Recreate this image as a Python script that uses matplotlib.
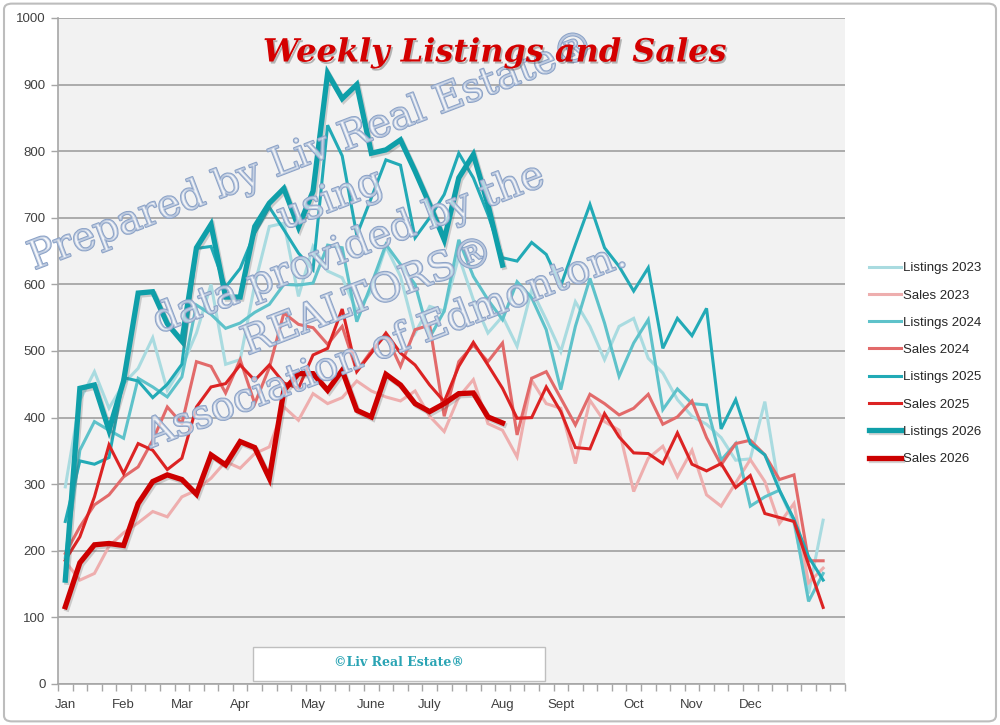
import numpy as np
import matplotlib
matplotlib.use("Agg")
import matplotlib.pyplot as plt
import matplotlib.patheffects as pe
from matplotlib.patches import Rectangle, FancyBboxPatch

# weekly counts, week 0 = first week of January
listings_2023 = [296, 426, 469, 414, 451, 474, 520, 441, 476, 527, 600, 480, 487, 600, 687,
                 692, 582, 657, 620, 610, 560, 590, 657, 612, 527, 567, 560, 642, 577, 527,
                 552, 507, 592, 547, 499, 574, 537, 487, 537, 549, 489, 467, 427, 402, 390,
                 370, 336, 338, 424, 291, 241, 136, 246]
sales_2023 = [184, 156, 166, 207, 227, 242, 259, 251, 281, 291, 309, 334, 324, 346, 356,
              416, 396, 436, 421, 430, 455, 440, 431, 425, 440, 402, 379, 431, 457, 391,
              381, 341, 456, 421, 414, 331, 426, 394, 381, 289, 339, 357, 311, 351, 284,
              267, 302, 337, 304, 241, 271, 152, 174]
listings_2024 = [190, 351, 394, 381, 369, 459, 446, 431, 461, 569, 555, 534, 542, 558, 570,
                 600, 599, 602, 659, 655, 544, 600, 660, 630, 600, 520, 560, 667, 612, 577,
                 547, 604, 580, 532, 442, 537, 609, 542, 462, 512, 547, 412, 443, 421, 419,
                 336, 361, 267, 281, 291, 247, 124, 166]
sales_2024 = [196, 236, 269, 284, 311, 326, 366, 416, 391, 484, 477, 437, 487, 421, 475,
              557, 540, 535, 510, 537, 470, 500, 524, 477, 532, 539, 402, 484, 509, 484,
              512, 374, 459, 469, 429, 389, 435, 421, 404, 414, 435, 390, 401, 425, 370,
              329, 361, 366, 344, 307, 314, 185, 185]
listings_2025 = [244, 335, 330, 340, 460, 455, 430, 450, 480, 654, 657, 596, 624, 677, 716,
                 682, 647, 622, 839, 793, 674, 730, 787, 779, 670, 700, 735, 797, 760, 705,
                 640, 635, 663, 645, 598, 660, 720, 655, 627, 590, 625, 504, 549, 523, 564,
                 383, 427, 361, 344, 291, 247, 191, 156]
sales_2025 = [186, 221, 281, 359, 316, 361, 351, 322, 339, 416, 446, 451, 479, 456, 479,
              452, 444, 494, 504, 563, 469, 497, 527, 497, 479, 449, 424, 477, 513, 479,
              444, 399, 400, 446, 409, 355, 353, 406, 371, 347, 346, 331, 377, 330, 320,
              331, 295, 313, 256, 250, 244, 179, 115]
listings_2026 = [156, 444, 449, 381, 455, 587, 589, 541, 515, 655, 690, 581, 581, 687, 722,
                 744, 686, 740, 917, 879, 900, 797, 802, 817, 770, 720, 667, 760, 795, 720,
                 629]
sales_2026 = [116, 182, 209, 211, 208, 271, 304, 314, 307, 285, 344, 329, 364, 355, 309,
              441, 466, 466, 441, 471, 411, 401, 465, 449, 421, 409, 421, 436, 437, 401,
              392]

month_labels = ["Jan", "Feb", "Mar", "Apr", "May", "June", "July", "Aug", "Sept", "Oct", "Nov", "Dec"]
month_weeks = [0, 4, 8, 12, 17, 21, 25, 30, 34, 39, 43, 47]

series = [
    ("Listings 2023", listings_2023, "#a9dbe0", 2.2),
    ("Sales 2023", sales_2023, "#eeaeae", 2.2),
    ("Listings 2024", listings_2024, "#5ec2ca", 2.2),
    ("Sales 2024", sales_2024, "#e26a6a", 2.2),
    ("Listings 2025", listings_2025, "#22aab6", 2.2),
    ("Sales 2025", sales_2025, "#dc2323", 2.2),
    ("Listings 2026", listings_2026, "#0f9fa9", 3.8),
    ("Sales 2026", sales_2026, "#cc0000", 3.8),
]

W, H = 1000, 725
fig = plt.figure(figsize=(10, 7.25), dpi=100)
fig.patch.set_facecolor("white")

# outer frame of the picture
fig.patches.append(FancyBboxPatch((0.004, 0.005), 0.992, 0.99, boxstyle="round,pad=0,rounding_size=0.008",
                                  transform=fig.transFigure, facecolor="none", edgecolor="#bdbdbd", lw=1.5))

left, right, bottom, top = 58 / W, 845 / W, 1 - 684 / H, 1 - 18 / H
ax = fig.add_axes([left, bottom, right - left, top - bottom])
ax.set_facecolor("#f2f2f2")

for name, vals, color, lw in series:
    fx = []
    if lw > 3:
        fx = [pe.SimpleLineShadow(offset=(1.2, -1.5), alpha=0.25, shadow_color="#555555"), pe.Normal()]
    ax.plot(np.arange(len(vals)), vals, color=color, lw=lw, label=name,
            solid_joinstyle="miter", path_effects=fx)

ax.set_ylim(0, 1000)
ax.set_xlim(-0.5, 53.5)
ax.set_yticks(np.arange(0, 1001, 100))
ax.grid(axis="y", color="#a6a6a6", lw=1.3)
ax.set_axisbelow(True)

ax.set_xticks(month_weeks)
ax.set_xticklabels(month_labels)
ax.set_xticks(np.arange(-0.5, 54, 1), minor=True)
ax.tick_params(axis="x", which="major", length=0, pad=11, labelsize=9.5, labelcolor="#404040")
ax.tick_params(axis="x", which="minor", length=5, color="#a6a6a6", width=1)
ax.tick_params(axis="y", length=5, color="#a6a6a6", width=1, labelsize=9.5, labelcolor="#404040", pad=4)
for lab in ax.get_xticklabels() + ax.get_yticklabels():
    lab.set_fontfamily("Liberation Sans")

for s in ["top", "right"]:
    ax.spines[s].set_visible(False)
for s in ["left", "bottom"]:
    ax.spines[s].set_color("#a6a6a6")
    ax.spines[s].set_linewidth(1.2)

# watermark, stacked lines along a 21 degree slant
wm_lines = ["Prepared by Liv Real Estate®", "using", "data provided by the", "REALTORS®",
            "Association of Edmonton."]
ang = 21
cx, cy = 312, 152
for i, t in enumerate(wm_lines):
    px = cx + i * 52 * np.sin(np.radians(ang))
    py = cy + i * 52 * np.cos(np.radians(ang))
    fig.text(px / W, 1 - py / H, t, ha="center", va="center", rotation=ang, rotation_mode="anchor",
             fontsize=28.5, fontfamily="DejaVu Serif", color=(0.95, 0.96, 0.98, 0.45),
             path_effects=[pe.Stroke(linewidth=1.4, foreground="#8aa1c6"), pe.Normal()], zorder=10)

# title on top of the watermark
fig.text(0.495, 1 - 53 / H, "Weekly Listings and Sales", ha="center", va="center",
         fontsize=23, fontfamily="DejaVu Serif", fontweight="bold", fontstyle="italic", color="#d40000",
         path_effects=[pe.withSimplePatchShadow(offset=(1.2, -1.5), shadow_rgbFace="#666666", alpha=0.45)],
         zorder=12)

# credit box
fig.patches.append(Rectangle((253 / W, 1 - 681 / H), 292 / W, 34 / H, transform=fig.transFigure,
                             facecolor="white", edgecolor="#bfbfbf", lw=1))
fig.text(399 / W, 1 - 662 / H, "©Liv Real Estate®", ha="center", va="center", fontsize=9,
         fontfamily="DejaVu Serif", fontweight="bold", color="#2aa4b4")

leg = ax.legend(loc="upper left", bbox_to_anchor=(869 / W, 1 - 262 / H), bbox_transform=fig.transFigure,
                frameon=False, fontsize=9.5, handlelength=2.4, labelspacing=1.14, handletextpad=0.2,
                borderaxespad=0, borderpad=0)
for t in leg.get_texts():
    t.set_fontfamily("Liberation Sans")
    t.set_color("#262626")

fig.savefig("out.png", dpi=100)
